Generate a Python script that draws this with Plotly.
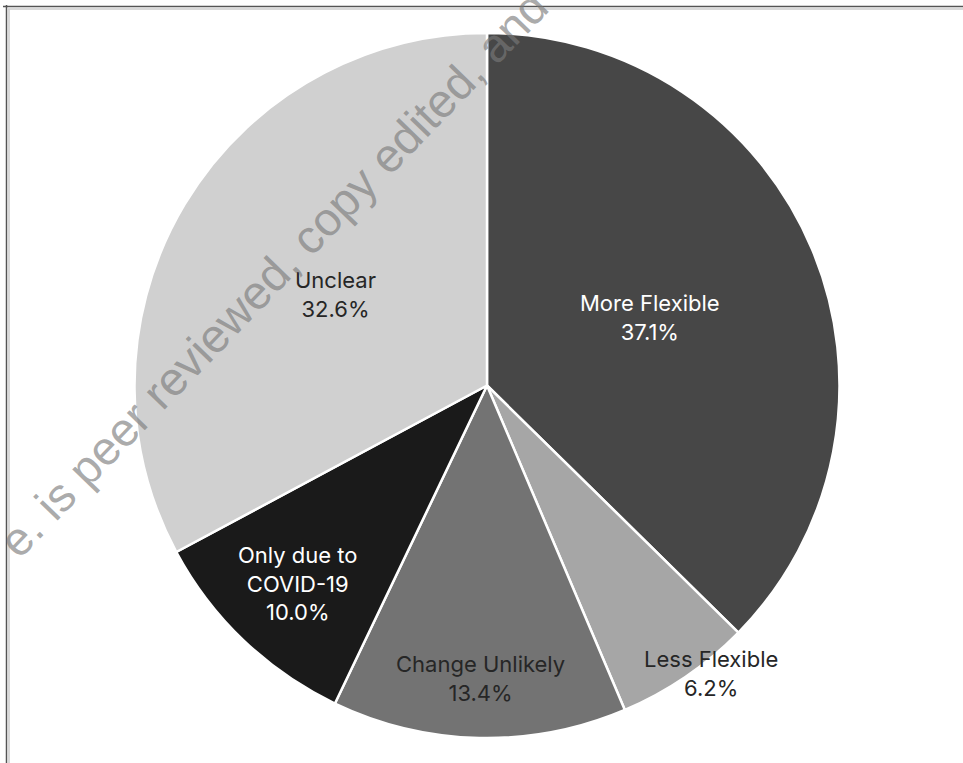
import math
import plotly.graph_objects as go

categories = ["More Flexible", "Less Flexible", "Change Unlikely", "Only due to<br>COVID-19", "Unclear"]
values = [37.1, 6.2, 13.4, 10.0, 32.6]
colors = ["#474747", "#a6a6a6", "#737373", "#1a1a1a", "#d0d0d0"]
text_colors = ["#ffffff", "#262626", "#262626", "#ffffff", "#262626"]
label_radius = [0.50, 1.034, 0.83, 0.777, 0.50]
label_angle_shift = [0.0, -3.6, 0.0, 0.0, 0.0]

W, H = 963, 763
cx, cy, R = 487.0, 385.5, 352.5

fig = go.Figure(go.Pie(
    labels=categories,
    values=values,
    sort=False,
    direction="clockwise",
    rotation=0,
    marker=dict(colors=colors, line=dict(color="#ffffff", width=2.5)),
    textinfo="none",
    hoverinfo="label+percent",
    showlegend=False,
    domain=dict(x=[(cx - R) / W, (cx + R) / W], y=[1 - (cy + R) / H, 1 - (cy - R) / H]),
))

total = sum(values)
cum = 0.0
annotations = []
for cat, v, tc, rf, da in zip(categories, values, text_colors, label_radius, label_angle_shift):
    mid = (cum + v / 2) / total * 2 * math.pi + math.radians(da)
    cum += v
    px = cx + rf * R * math.sin(mid)
    py = cy - rf * R * math.cos(mid)
    annotations.append(dict(
        x=px / W, y=1 - py / H, xref="paper", yref="paper",
        text=f"{cat}<br>{v:.1f}%", showarrow=False,
        font=dict(family="Inter, Noto Sans, sans-serif", size=22, color=tc),
        xanchor="center", yanchor="middle", align="center",
    ))

# watermark
annotations.append(dict(
    x=273 / W, y=1 - 273 / H, xref="paper", yref="paper",
    text="e. is peer reviewed, copy edited, and", showarrow=False,
    textangle=-46,
    font=dict(family="Liberation Sans, Arial, sans-serif", size=47, color="rgba(122,122,122,0.64)"),
    xanchor="center", yanchor="middle",
))

shapes = [
    dict(type="line", xref="paper", yref="paper", x0=3 / W, x1=1, y0=1 - 6.5 / H, y1=1 - 6.5 / H,
         line=dict(color="#555555", width=1.5)),
    dict(type="line", xref="paper", yref="paper", x0=8 / W, x1=1, y0=1 - 9 / H, y1=1 - 9 / H,
         line=dict(color="#cccccc", width=1.5)),
    dict(type="line", xref="paper", yref="paper", x0=6.5 / W, x1=6.5 / W, y0=0, y1=1 - 5 / H,
         line=dict(color="#555555", width=1.5)),
    dict(type="line", xref="paper", yref="paper", x0=9 / W, x1=9 / W, y0=0, y1=1 - 9 / H,
         line=dict(color="#cccccc", width=1.5)),
]

fig.update_layout(
    width=W, height=H,
    margin=dict(l=0, r=0, t=0, b=0),
    paper_bgcolor="#ffffff",
    plot_bgcolor="#ffffff",
    annotations=annotations,
    shapes=shapes,
)

fig.write_html("out.html", include_plotlyjs=True, config={"displayModeBar": False})
